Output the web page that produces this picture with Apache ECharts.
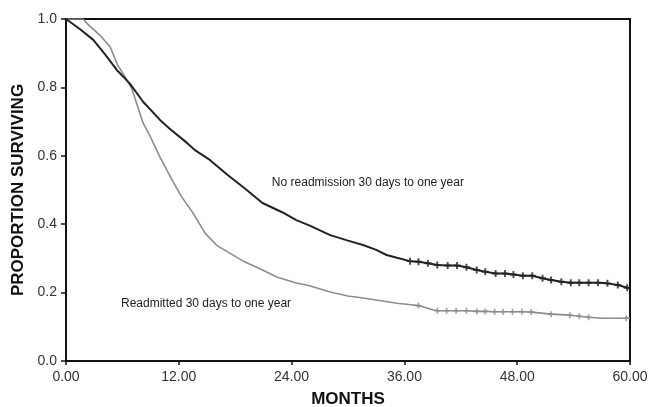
<!DOCTYPE html>
<html>
<head>
<meta charset="utf-8">
<script src="https://cdn.jsdelivr.net/npm/echarts@6/dist/echarts.min.js"></script>
<style>
  html, body { margin: 0; padding: 0; background: #fff; }
  #chart { width: 649px; height: 407px; }
</style>
</head>
<body>
<div id="chart"></div>
<script>
// Kaplan-Meier survival, months after discharge
var xTicks = [0, 12, 24, 36, 48, 60];
var yTicks = [0, 0.2, 0.4, 0.6, 0.8, 1.0];

// No readmission 30 days to one year
var noReadmitMonths = [0, 1.5, 2.9, 4.2, 5.4, 6.8, 8.2, 10.0, 11.0, 12.9, 13.8, 15.3, 17.2, 19.0, 20.9, 23.0, 24.5, 26.0, 28.1, 30.0, 31.6, 33.0, 34.1, 35.2,
  36.6, 37.5, 38.5, 39.5, 40.6, 41.6, 42.6, 43.7, 44.6, 45.7, 46.7, 47.6, 48.6, 49.6, 50.7, 51.6, 52.7, 53.7, 54.6, 55.6, 56.6, 57.6, 58.7, 59.7, 60];
var noReadmitSurv = [1.0, 0.97, 0.939, 0.895, 0.851, 0.811, 0.758, 0.705, 0.68, 0.637, 0.615, 0.588, 0.544, 0.505, 0.462, 0.435, 0.412, 0.395, 0.368, 0.352, 0.339, 0.325, 0.31, 0.302,
  0.292, 0.290, 0.286, 0.281, 0.279, 0.279, 0.274, 0.266, 0.261, 0.256, 0.256, 0.253, 0.249, 0.249, 0.242, 0.237, 0.232, 0.229, 0.229, 0.229, 0.229, 0.227, 0.222, 0.214, 0.212];
var noReadmitCensorMonths = [36.6, 37.5, 38.5, 39.5, 40.6, 41.6, 42.6, 43.7, 44.6, 45.7, 46.7, 47.6, 48.6, 49.6, 50.7, 51.6, 52.7, 53.7, 54.6, 55.6, 56.6, 57.6, 58.7, 59.7];
var noReadmitCensorSurv = [0.292, 0.290, 0.286, 0.281, 0.279, 0.279, 0.274, 0.266, 0.261, 0.256, 0.256, 0.253, 0.249, 0.249, 0.242, 0.237, 0.232, 0.229, 0.229, 0.229, 0.229, 0.227, 0.222, 0.214];

// Readmitted 30 days to one year
var readmitMonths = [0, 1.8, 2.5, 3.6, 4.7, 5.5, 6.3, 7.0, 8.2, 8.9, 10.0, 11.3, 12.3, 13.5, 14.8, 16.0, 17.2, 19.0, 20.9, 22.5, 24.5, 25.9, 28.1, 30.0, 31.6, 33.5, 35.2, 36.5,
  37.5, 39.0, 39.5, 40.5, 41.5, 42.6, 43.7, 44.6, 45.6, 46.5, 47.5, 48.5, 49.5, 51.6, 53.6, 54.6, 55.6, 57.0, 59.6, 60];
var readmitSurv = [1.0, 1.0, 0.98, 0.953, 0.918, 0.865, 0.83, 0.796, 0.696, 0.66, 0.596, 0.529, 0.48, 0.433, 0.374, 0.339, 0.319, 0.29, 0.266, 0.245, 0.228, 0.220, 0.202, 0.19, 0.184, 0.176, 0.169, 0.165,
  0.162, 0.150, 0.147, 0.147, 0.147, 0.147, 0.145, 0.145, 0.144, 0.144, 0.144, 0.144, 0.143, 0.137, 0.134, 0.131, 0.128, 0.125, 0.125, 0.125];
var readmitCensorMonths = [37.5, 39.5, 40.5, 41.5, 42.6, 43.7, 44.6, 45.6, 46.5, 47.5, 48.5, 49.5, 51.6, 53.6, 54.6, 55.6, 59.6];
var readmitCensorSurv = [0.162, 0.147, 0.147, 0.147, 0.147, 0.145, 0.145, 0.144, 0.144, 0.144, 0.144, 0.143, 0.137, 0.134, 0.131, 0.128, 0.125];

var seriesLabels = ['No readmission 30 days to one year', 'Readmitted 30 days to one year'];
var labelAnchors = [[21.9, 0.52], [5.85, 0.167]];

function pairs(xs, ys) {
  return xs.map(function (x, i) { return [x, ys[i]]; });
}

var plusSymbol = 'path://M3.6,0H6.4V3.6H10V6.4H6.4V10H3.6V6.4H0V3.6H3.6Z';

var chart = echarts.init(document.getElementById('chart'));
var tickFont = { color: '#333', fontSize: 14, fontFamily: 'Arial, Liberation Sans, sans-serif' };

chart.setOption({
  animation: false,
  backgroundColor: '#fff',
  grid: {
    left: 66, right: 19, top: 19, bottom: 46, containLabel: false, outerBoundsMode: 'none',
    show: true, borderColor: '#111', borderWidth: 2, backgroundColor: 'transparent'
  },
  xAxis: {
    type: 'value', min: xTicks[0], max: xTicks[xTicks.length - 1], interval: 12,
    name: 'MONTHS', nameLocation: 'middle', nameGap: 30,
    nameTextStyle: { color: '#111', fontSize: 17, fontWeight: 'bold', fontFamily: 'Arial, Liberation Sans, sans-serif' },
    axisLine: { show: true, lineStyle: { color: '#111', width: 2 } },
    axisTick: { show: true, length: 4, lineStyle: { color: '#111', width: 1.5 } },
    axisLabel: Object.assign({ margin: 9, formatter: function (v) { return v.toFixed(2); } }, tickFont),
    splitLine: { show: false }
  },
  yAxis: {
    type: 'value', min: yTicks[0], max: yTicks[yTicks.length - 1], interval: 0.2,
    name: 'PROPORTION SURVIVING', nameLocation: 'middle', nameGap: 39,
    nameTextStyle: { color: '#111', fontSize: 17, fontWeight: 'bold', fontFamily: 'Arial, Liberation Sans, sans-serif' },
    axisLine: { show: true, lineStyle: { color: '#111', width: 2 } },
    axisTick: { show: true, length: 5, lineStyle: { color: '#111', width: 1.5 } },
    axisLabel: Object.assign({ margin: 9, formatter: function (v) { return v.toFixed(1); } }, tickFont),
    splitLine: { show: false }
  },
  series: [
    {
      type: 'line', name: seriesLabels[1], data: pairs(readmitMonths, readmitSurv),
      showSymbol: false, lineStyle: { color: '#8c8c8c', width: 1.6 }, z: 2
    },
    {
      type: 'scatter', data: pairs(readmitCensorMonths, readmitCensorSurv),
      symbol: plusSymbol, symbolSize: 6, itemStyle: { color: '#8c8c8c' }, z: 3
    },
    {
      type: 'line', name: seriesLabels[0], data: pairs(noReadmitMonths, noReadmitSurv),
      showSymbol: false, lineStyle: { color: '#222', width: 2 }, z: 4
    },
    {
      type: 'scatter', data: pairs(noReadmitCensorMonths, noReadmitCensorSurv),
      symbol: plusSymbol, symbolSize: 7, itemStyle: { color: '#222' }, z: 5
    }
  ]
});

// Curve labels placed at data coordinates
var labelGraphics = seriesLabels.map(function (txt, i) {
  var p = chart.convertToPixel({ gridIndex: 0 }, labelAnchors[i]);
  return {
    type: 'text', x: p[0], y: p[1], z: 10,
    style: { text: txt, fill: '#222', fontSize: 12, fontFamily: 'Arial, Liberation Sans, sans-serif', verticalAlign: 'middle', align: 'left' }
  };
});
chart.setOption({ graphic: labelGraphics });
</script>
</body>
</html>
